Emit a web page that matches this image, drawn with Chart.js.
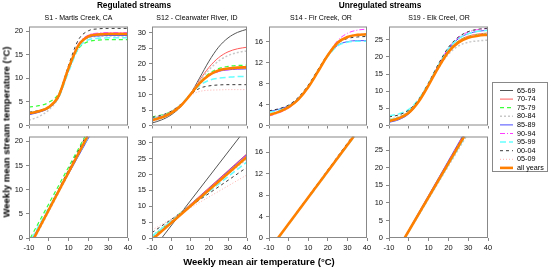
<!DOCTYPE html>
<html>
<head>
<meta charset="utf-8">
<script src="https://cdn.jsdelivr.net/npm/chart.js@4.4.0/dist/chart.umd.min.js"></script>
<style>
  body { margin: 0; width: 551px; height: 267px; position: relative; background: #fff; overflow: hidden;
         font-family: "Liberation Sans", Arial, sans-serif; }
  canvas { position: absolute; }
  .txt { position: absolute; white-space: nowrap; color: #000; transform: translate(-50%, -50%); }
  .grp { font-weight: bold; font-size: 8.3px; }
  .ttl { font-size: 7px; }
  .axl { font-weight: bold; font-size: 9.5px; }
  #legend { position: absolute; left: 492px; top: 82px; width: 54px; height: 88px; border: 1px solid #888; }
  #legend div { position: absolute; left: 24px; font-size: 7.2px; line-height: 8px; white-space: nowrap; }
  #legend svg { position: absolute; left: 0; top: 0; }
</style>
</head>
<body>

<script>
// weekly air temperature grid used to read the curves (deg C)
const airTemp = [-10, -5, 0, 5, 10, 15, 20, 25, 30, 35, 40];
const periods = ['65-69', '70-74', '75-79', '80-84', '85-89', '90-94', '95-99', '00-04', '05-09', 'all years'];

// top row: nonlinear fits, one array per period (null = no data for that stream)
const s1Curve = [
  [2.4, 2.9, 3.8, 6.2, 12.0, 17.0, 18.9, 19.2, 19.3, 19.3, 19.3],
  [2.5, 3.0, 3.9, 6.3, 12.2, 17.2, 19.1, 19.5, 19.6, 19.6, 19.6],
  [3.9, 4.2, 4.9, 6.8, 11.9, 16.3, 17.8, 18.1, 18.2, 18.2, 18.2],
  [1.1, 1.9, 3.3, 6.0, 11.9, 16.8, 18.6, 18.9, 19.0, 19.0, 19.0],
  [2.3, 2.8, 3.7, 6.0, 11.8, 16.8, 18.7, 19.0, 19.1, 19.1, 19.1],
  [2.6, 3.1, 4.0, 6.4, 12.3, 17.3, 19.2, 19.6, 19.7, 19.7, 19.7],
  [2.7, 3.1, 3.9, 6.0, 11.4, 16.4, 18.2, 18.5, 18.6, 18.6, 18.6],
  [2.8, 3.2, 4.0, 6.5, 12.8, 18.2, 20.1, 20.5, 20.6, 20.6, 20.6],
  [2.5, 3.0, 3.9, 6.3, 12.2, 17.2, 19.1, 19.4, 19.5, 19.5, 19.5],
  [2.6, 3.0, 3.9, 6.3, 12.2, 17.0, 18.9, 19.3, 19.4, 19.4, 19.4]
];
const s12Curve = [
  [0.8, 1.8, 3.4, 6.0, 10.0, 15.3, 20.8, 25.3, 28.3, 30.1, 31.1],
  [1.5, 2.5, 4.0, 6.3, 10.0, 14.6, 18.8, 21.9, 23.8, 24.8, 25.3],
  [2.8, 3.4, 4.5, 6.6, 10.0, 13.8, 16.8, 18.4, 19.1, 19.4, 19.5],
  [1.3, 2.3, 3.9, 6.3, 10.0, 14.3, 18.0, 20.8, 22.6, 23.6, 24.1],
  [2.2, 2.9, 4.2, 6.5, 10.0, 13.6, 16.2, 17.5, 18.0, 18.2, 18.3],
  [2.4, 3.1, 4.4, 6.6, 10.0, 13.5, 16.0, 17.4, 18.0, 18.3, 18.4],
  [2.3, 3.0, 4.3, 6.6, 10.0, 12.9, 14.6, 15.3, 15.6, 15.8, 15.8],
  [2.6, 3.3, 4.6, 6.8, 9.8, 12.0, 12.8, 13.1, 13.2, 13.2, 13.2],
  [2.6, 3.3, 4.6, 6.8, 9.6, 11.0, 11.4, 11.5, 11.6, 11.6, 11.6],
  [1.8, 2.6, 4.0, 6.3, 9.8, 13.6, 16.3, 17.8, 18.4, 18.7, 18.8]
];
const s14Curve = [
  null, null, null, null,
  [2.7, 3.1, 3.8, 5.2, 7.4, 10.4, 13.3, 15.3, 16.0, 16.2, 16.2],
  [1.8, 2.4, 3.3, 4.9, 7.2, 10.3, 13.5, 16.2, 17.6, 18.2, 18.4],
  [2.5, 2.9, 3.7, 5.1, 7.4, 10.4, 13.2, 15.2, 15.9, 16.1, 16.1],
  [2.8, 3.2, 3.9, 5.4, 7.7, 10.7, 13.6, 15.7, 16.6, 16.9, 17.0],
  [1.9, 2.5, 3.4, 5.0, 7.3, 10.4, 13.5, 15.9, 17.0, 17.4, 17.5],
  [2.0, 2.6, 3.5, 5.0, 7.3, 10.3, 13.4, 15.8, 16.9, 17.3, 17.4]
];
const s19Curve = [
  null,
  [1.4, 2.2, 3.8, 7.1, 12.0, 17.3, 21.9, 24.7, 26.1, 26.7, 27.0],
  [1.6, 2.4, 4.0, 7.2, 12.0, 17.2, 21.7, 24.5, 25.9, 26.5, 26.8],
  [1.8, 2.6, 4.1, 7.3, 11.9, 16.8, 20.8, 23.2, 24.3, 24.7, 24.9],
  [0.9, 1.7, 3.4, 6.9, 11.9, 17.4, 22.3, 25.3, 26.8, 27.5, 27.8],
  [1.2, 2.0, 3.6, 7.0, 12.1, 17.7, 22.6, 25.7, 27.3, 28.0, 28.3],
  [2.8, 3.4, 4.7, 7.7, 12.4, 17.7, 22.4, 25.3, 26.8, 27.5, 27.8],
  [2.5, 3.1, 4.5, 7.6, 12.5, 18.0, 22.8, 25.8, 27.4, 28.1, 28.4],
  [1.5, 2.3, 3.9, 7.1, 12.0, 17.2, 21.7, 24.6, 26.0, 26.6, 26.9],
  [1.3, 2.1, 3.7, 7.0, 11.8, 17.0, 21.5, 24.2, 25.6, 26.2, 26.5]
];

// bottom row: linear fits, start and end point [air, stream] of each line
const s1LineFrom = [[-7.3, 0], [-7.6, 0], [-9.3, 0], [-7.0, 0], [-8.1, 0], [-7.8, 0], [-8.5, 0], [-7.6, 0], [-7.4, 0], [-7.5, 0]];
const s1LineTo   = [[19.6, 21], [19.4, 21], [18.3, 21], [19.8, 21], [20.5, 21], [19.3, 21], [20.0, 21], [18.6, 21], [19.0, 21], [19.5, 21]];
const s12LineFrom = [[-4.9, 0], [-9.5, 0], [-10, 0.3], [-10, 0.6], [-9.3, 0], [-9.6, 0], [-10, 0.6], [-10, 1.7], [-10, 2.5], [-9.0, 0]];
const s12LineTo   = [[36.3, 32], [40, 26.6], [40, 25.5], [40, 25.0], [40, 26.4], [40, 26.2], [40, 24.0], [40, 22.3], [40, 19.9], [40, 25.6]];
const s14LineFrom = [null, null, null, null, [-5.3, 0], [-5.4, 0], [-5.2, 0], [-5.5, 0], [-5.4, 0], [-5.4, 0]];
const s14LineTo   = [null, null, null, null, [33.4, 18.9], [33.0, 18.9], [33.5, 18.9], [32.5, 18.9], [33.1, 18.9], [33.2, 18.9]];
const s19LineFrom = [null, [-2.1, 0], [-2.1, 0], [-2.0, 0], [-2.3, 0], [-2.2, 0], [-2.0, 0], [-2.2, 0], [-2.0, 0], [-2.1, 0]];
const s19LineTo   = [null, [27.8, 28.9], [28.3, 28.9], [29.0, 28.9], [27.0, 28.9], [27.2, 28.9], [28.5, 28.9], [27.4, 28.9], [28.2, 28.9], [27.9, 28.9]];

const streamNames = ['S1 - Martis Creek, CA', 'S12 - Clearwater River, ID', 'S14 - Fir Creek, OR', 'S19 - Elk Creel, OR'];
const yMaxes = [21, 32, 18.9, 28.9];
const ySteps = [5, 5, 4, 5];

// styles
const lineColors = ['#555555', '#ff5a5a', '#3cff3c', '#c8c8c8', '#4a4aff', '#ff3cff', '#66ffff', '#3a3a3a', '#ffb0b0', '#ff8000'];
const lineDashes = [[], [], [4, 3], [2, 2], [], [5, 2, 1, 2], [6, 3], [3, 3], [1, 2], []];
const lineWidths = [1, 1, 1.2, 1.5, 1, 1, 1.5, 1, 1, 2.6];

const colLeft = [29, 152, 269, 389];
const colRight = [128, 247, 367, 488];
const titleX = [78.5, 197, 321, 439];

const frame = {
  id: 'frame',
  afterDraw(chart) {
    const { ctx, chartArea: a } = chart;
    ctx.save();
    ctx.strokeStyle = '#888';
    ctx.lineWidth = 1;
    ctx.strokeRect(a.left + 0.5, a.top + 0.5, a.right - a.left - 1, a.bottom - a.top - 1);
    ctx.restore();
  }
};

function addText(cls, x, y, s, rot) {
  const d = document.createElement('div');
  d.className = 'txt ' + cls;
  d.style.left = x + 'px';
  d.style.top = y + 'px';
  if (rot) d.style.transform = 'translate(-50%, -50%) rotate(-90deg)';
  d.textContent = s;
  document.body.appendChild(d);
}

function makePanel(col, top, bottom, datasets, showX) {
  const YW = 26, PT = 4, PR = 8, XH = showX ? 16 : 5;
  const L = colLeft[col], R = colRight[col];
  const w = YW + (R - L) + PR, h = PT + (bottom - top) + XH;
  const c = document.createElement('canvas');
  c.width = w; c.height = h;
  c.style.left = (L - YW) + 'px';
  c.style.top = (top - PT) + 'px';
  c.style.width = w + 'px';
  c.style.height = h + 'px';
  document.body.appendChild(c);
  const tickFont = { family: '"Liberation Sans", Arial, sans-serif', size: 7.5 };
  new Chart(c, {
    type: 'line',
    data: { datasets },
    options: {
      responsive: false,
      animation: false,
      devicePixelRatio: 1,
      layout: { padding: { top: PT, right: PR, left: 0, bottom: 0 } },
      plugins: { legend: { display: false }, tooltip: { enabled: false } },
      elements: { point: { radius: 0 } },
      scales: {
        x: {
          type: 'linear', min: -10, max: 40,
          ticks: { stepSize: 10, display: showX, font: tickFont, color: '#111', padding: 2, maxRotation: 0, autoSkip: false, includeBounds: false },
          grid: { drawOnChartArea: false, drawTicks: true, tickLength: 3, color: '#888' },
          border: { display: false },
          afterFit: s => { s.height = XH; }
        },
        y: {
          min: 0, max: yMaxes[col],
          ticks: { stepSize: ySteps[col], font: tickFont, color: '#111', padding: 3, autoSkip: false, includeBounds: false },
          grid: { drawOnChartArea: false, drawTicks: true, tickLength: 3, color: '#888' },
          border: { display: false },
          afterFit: s => { s.width = YW; }
        }
      }
    },
    plugins: [frame]
  });
}

function styleOf(i) {
  return {
    label: periods[i],
    borderColor: lineColors[i],
    borderDash: lineDashes[i],
    borderWidth: lineWidths[i],
    pointRadius: 0,
    fill: false,
    clip: 0,
    order: periods.length - i
  };
}

const curves = [s1Curve, s12Curve, s14Curve, s19Curve];
const froms = [s1LineFrom, s12LineFrom, s14LineFrom, s19LineFrom];
const tos = [s1LineTo, s12LineTo, s14LineTo, s19LineTo];

for (let col = 0; col < 4; col++) {
  const top = [], bot = [];
  periods.forEach((p, i) => {
    const cv = curves[col][i];
    if (cv) {
      top.push(Object.assign(styleOf(i), {
        data: airTemp.map((x, k) => ({ x, y: cv[k] })),
        cubicInterpolationMode: 'monotone'
      }));
    }
    const a = froms[col][i], b = tos[col][i];
    if (a && b) {
      bot.push(Object.assign(styleOf(i), {
        data: [{ x: a[0], y: a[1] }, { x: b[0], y: b[1] }],
        tension: 0
      }));
    }
  });
  makePanel(col, 23, 128, top, false);
  makePanel(col, 133, 238, bot, true);
  addText('ttl', titleX[col], 17.3, streamNames[col]);
}

addText('grp', 134, 5, 'Regulated streams');
addText('grp', 380, 5, 'Unregulated streams');
addText('axl', 259, 260.5, 'Weekly mean air temperature (\u00B0C)');
addText('axl', 5.5, 132, 'Weekly mean stream temperature (\u00B0C)', true);

// legend
const lg = document.createElement('div');
lg.id = 'legend';
document.body.appendChild(lg);
const ns = 'http://www.w3.org/2000/svg';
const svg = document.createElementNS(ns, 'svg');
svg.setAttribute('width', 54);
svg.setAttribute('height', 88);
lg.appendChild(svg);
periods.forEach((p, i) => {
  const y = 7.5 + i * 8.6;
  const ln = document.createElementNS(ns, 'line');
  ln.setAttribute('x1', 7); ln.setAttribute('x2', 20);
  ln.setAttribute('y1', y); ln.setAttribute('y2', y);
  ln.setAttribute('stroke', lineColors[i]);
  ln.setAttribute('stroke-width', lineWidths[i]);
  if (lineDashes[i].length) ln.setAttribute('stroke-dasharray', lineDashes[i].join(' '));
  svg.appendChild(ln);
  const t = document.createElement('div');
  t.style.top = (y - 4) + 'px';
  t.textContent = p;
  lg.appendChild(t);
});
</script>
</body>
</html>
